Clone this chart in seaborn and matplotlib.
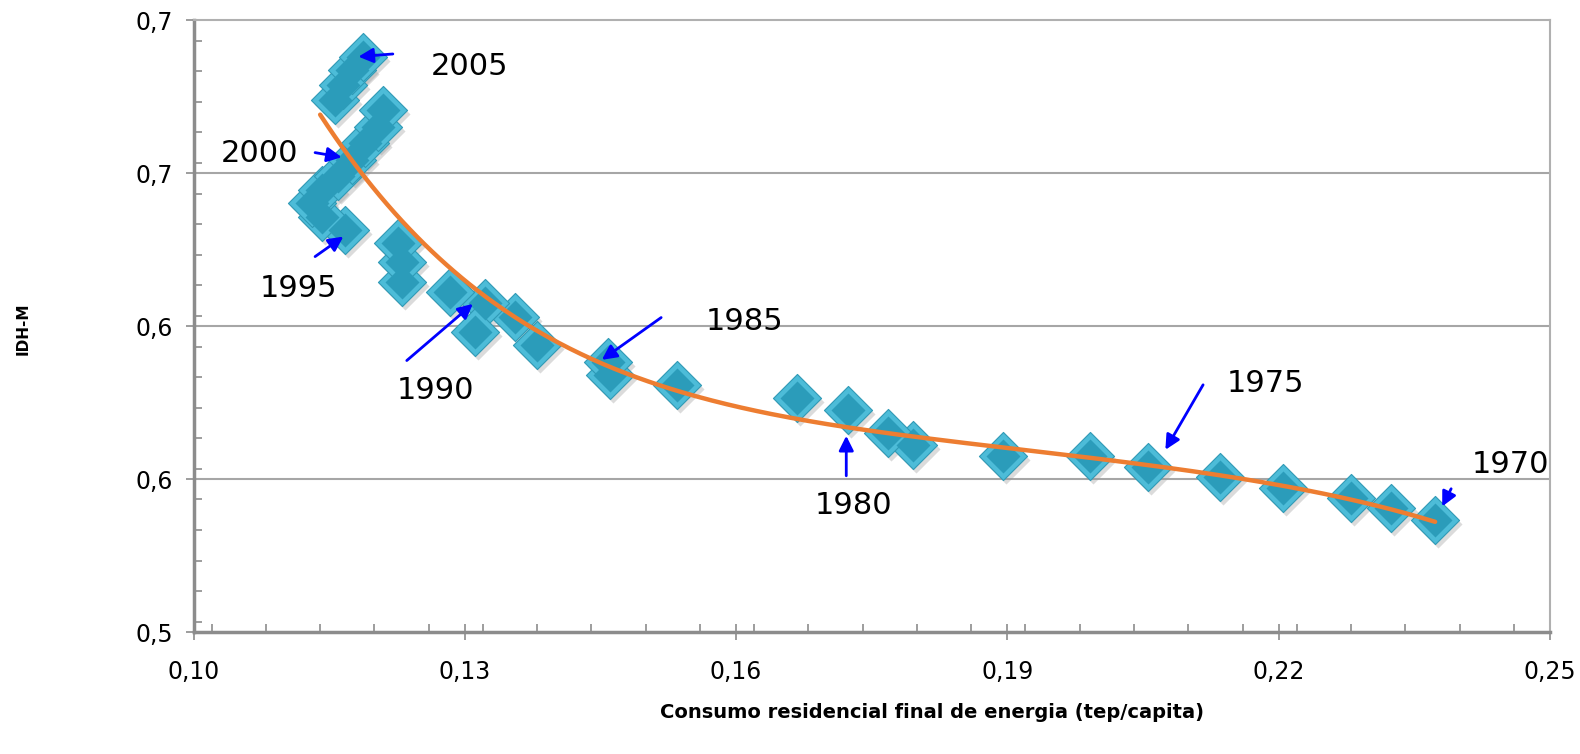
import numpy as np
import pandas as pd
import matplotlib
matplotlib.use("Agg")
import matplotlib.pyplot as plt
import matplotlib.transforms as mtransforms
from matplotlib.ticker import MultipleLocator, FixedLocator
import seaborn as sns

# ---- data ----
consumo = [0.23734, 0.23238, 0.22796, 0.22044, 0.21355, 0.20558, 0.19917, 0.18955,
           0.17959, 0.17683, 0.17240, 0.16676, 0.15348, 0.14607, 0.14585, 0.13800,
           0.13556, 0.13225, 0.13114, 0.12838, 0.12307, 0.12307, 0.12262, 0.11676,
           0.11421, 0.11311, 0.11421, 0.11598, 0.11753, 0.11897, 0.12041, 0.12096,
           0.11565, 0.11654, 0.11753, 0.11875]
idhm = [0.5440, 0.5488, 0.5527, 0.5566, 0.5609, 0.5648, 0.5691, 0.5691,
        0.5735, 0.5782, 0.5872, 0.5919, 0.5970, 0.6009, 0.6060, 0.6127,
        0.6237, 0.6291, 0.6178, 0.6335, 0.6374, 0.6452, 0.6527, 0.6578,
        0.6629, 0.6684, 0.6735, 0.6789, 0.6852, 0.6919, 0.6982, 0.7048,
        0.7088, 0.7146, 0.7205, 0.7256]

# trend line samples
trend_x = [0.1140, 0.1184, 0.1273, 0.1317, 0.1405, 0.1428, 0.1590, 0.1722,
           0.1787, 0.1973, 0.2091, 0.2169, 0.2239, 0.2373]
trend_y = [0.7035, 0.6800, 0.6473, 0.6319, 0.6133, 0.6095, 0.5904, 0.5793,
           0.5764, 0.5703, 0.5636, 0.5597, 0.5545, 0.5434]

x_ticks = [0.10, 0.13, 0.16, 0.19, 0.22, 0.25]
x_labels = ["0,10", "0,13", "0,16", "0,19", "0,22", "0,25"]
y_ticks = [0.50, 0.56, 0.62, 0.68, 0.74]
y_labels = ["0,5", "0,6", "0,6", "0,7", "0,7"]

# annotations: label, text pos, arrow start, arrow tip (data units)
ann_labels = ["2005", "2000", "1995", "1990", "1985", "1980", "1975", "1970"]
ann_text = [(0.13048, 0.72169), (0.10725, 0.68757), (0.11156, 0.63463), (0.12671, 0.59463),
            (0.16090, 0.62169), (0.17295, 0.54953), (0.21853, 0.59737), (0.24563, 0.56561)]
ann_start = [(0.12204, 0.72678), (0.11344, 0.68808), (0.11344, 0.64729), (0.12358, 0.60651),
             (0.15171, 0.62337), (0.17218, 0.56129), (0.21164, 0.59698), (0.23907, 0.55620)]
ann_tip = [(0.11823, 0.72573), (0.11639, 0.68627), (0.11657, 0.65514), (0.13089, 0.62875),
           (0.14515, 0.60678), (0.17218, 0.57698), (0.20747, 0.57149), (0.23808, 0.54925)]

df = pd.DataFrame({"consumo": consumo, "idhm": idhm})

# smooth the trend samples with a polynomial for drawing
tx = np.array(trend_x)
u = (tx - tx.mean()) / tx.std()
coef = np.polyfit(u, trend_y, 5)
xt = np.linspace(tx.min(), tx.max(), 300)
trend = pd.DataFrame({"x": xt, "y": np.polyval(coef, (xt - tx.mean()) / tx.std())})

sns.set_theme(style="white")
plt.rcParams["font.family"] = ["DejaVu Sans"]
plt.rcParams["text.color"] = "black"

fig = plt.figure(figsize=(15.8, 7.54), dpi=100)
ax = fig.add_axes([0.1225, 0.1618, 0.981 - 0.1225, 0.9731 - 0.1618])

# diamonds: shadow, outer bevel, inner face
shadow = mtransforms.offset_copy(ax.transData, fig=fig, x=3, y=-4, units="dots")
sns.scatterplot(data=df, x="consumo", y="idhm", marker="D", s=600, color="#9a9a9a",
                alpha=0.35, linewidth=0, ax=ax, transform=shadow, zorder=2)
sns.scatterplot(data=df, x="consumo", y="idhm", marker="D", s=600, color="#4dbcd8",
                edgecolor="#2f9ab6", linewidth=0.8, ax=ax, zorder=3)
sns.scatterplot(data=df, x="consumo", y="idhm", marker="D", s=300, color="#2b9cba",
                linewidth=0, ax=ax, zorder=4)

sns.lineplot(data=trend, x="x", y="y", color="#ed7d31", linewidth=3.2, ax=ax, zorder=5)

ax.set_xlim(0.10, 0.25)
ax.set_ylim(0.50, 0.74)
ax.xaxis.set_major_locator(FixedLocator(x_ticks))
ax.set_xticklabels(x_labels)
ax.xaxis.set_minor_locator(MultipleLocator(0.006))
ax.yaxis.set_major_locator(FixedLocator(y_ticks))
ax.set_yticklabels(y_labels)
ax.yaxis.set_minor_locator(MultipleLocator(0.012))

ax.grid(False)
for yv in y_ticks[1:-1]:
    ax.axhline(yv, color="#a6a6a6", lw=1.5, zorder=1)

for side in ["left", "bottom"]:
    ax.spines[side].set_color("#8c8c8c")
    ax.spines[side].set_linewidth(2.5)
for side in ["top", "right"]:
    ax.spines[side].set_color("#b0b0b0")
    ax.spines[side].set_linewidth(1.5)

ax.tick_params(axis="both", which="major", direction="inout", length=12, width=1.2,
               color="#8c8c8c", labelsize=17, labelcolor="black")
ax.tick_params(axis="both", which="minor", direction="in", length=6, width=1.2,
               color="#8c8c8c")
ax.tick_params(axis="x", which="major", pad=14)
ax.tick_params(axis="y", which="major", pad=9)
ax.tick_params(axis="both", which="both", left=True, bottom=True, top=False, right=False)

ax.set_xlabel("")
ax.set_ylabel("")
fig.text(932 / 1580, 1 - 712 / 754, "Consumo residencial final de energia (tep/capita)",
         fontsize=14, fontweight="bold", ha="center", va="center", color="black")
fig.text(23 / 1580, 1 - 329 / 754, "IDH-M", fontsize=11, fontweight="bold",
         ha="center", va="center", rotation=90, color="black")

for lab, tp, st, tip in zip(ann_labels, ann_text, ann_start, ann_tip):
    ax.text(tp[0], tp[1], lab, fontsize=22, ha="center", va="center", color="black", zorder=7)
    ax.annotate("", xy=tip, xytext=st,
                arrowprops=dict(arrowstyle="-|>", color="#0000ff", lw=2,
                                mutation_scale=22, shrinkA=0, shrinkB=0),
                zorder=8)

fig.savefig("out.png", dpi=100)
